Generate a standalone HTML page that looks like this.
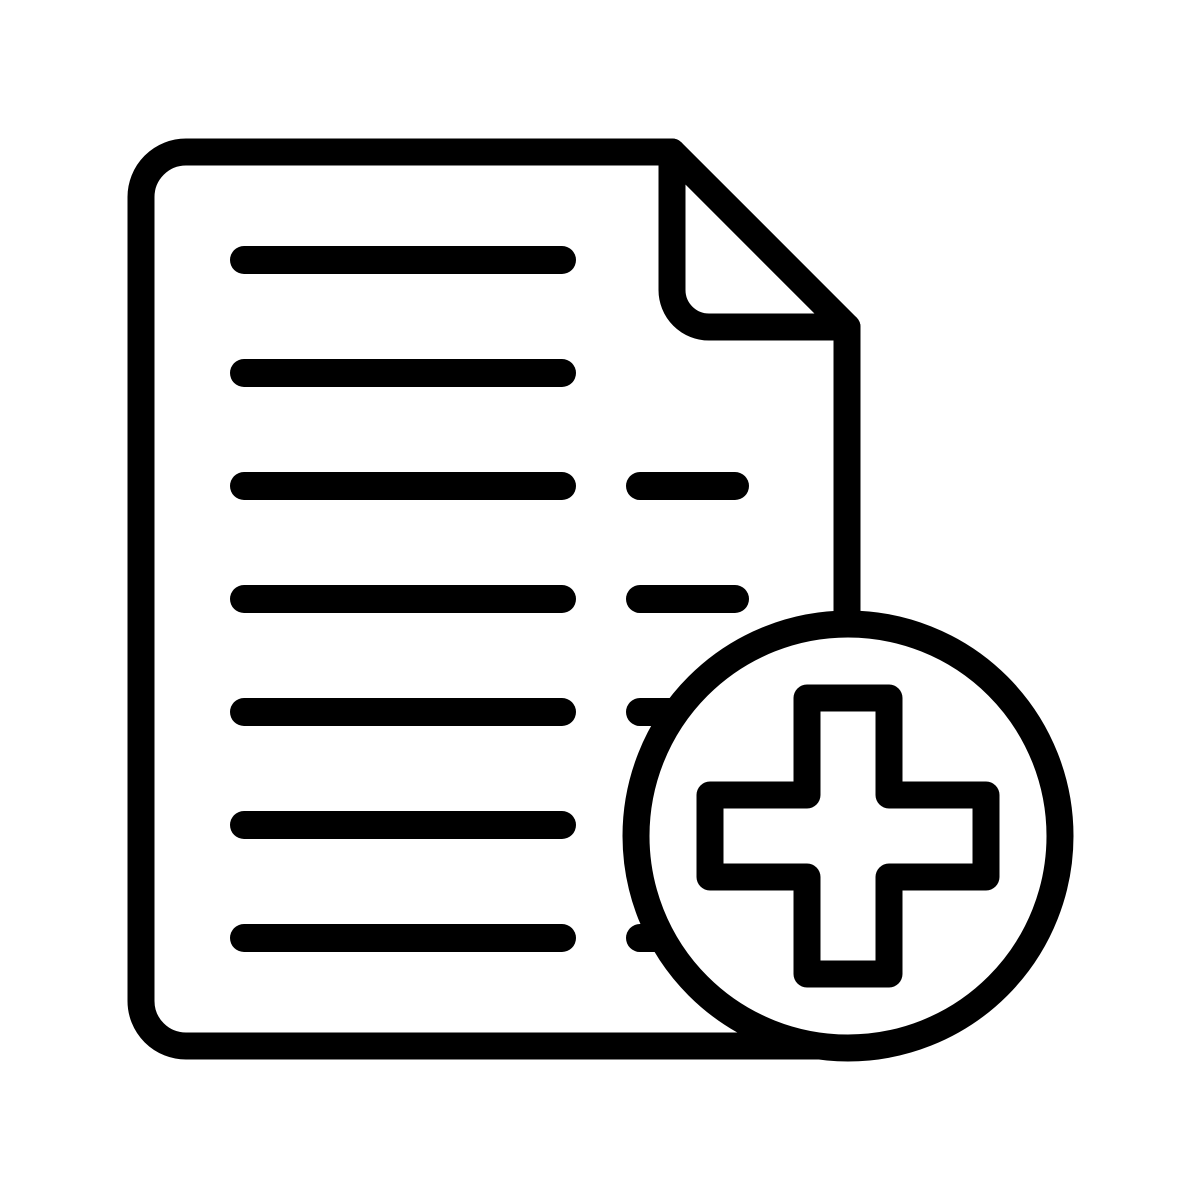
<!DOCTYPE html>
<html><head><meta charset="utf-8"><style>html,body{margin:0;padding:0;background:#fff;}svg{display:block}</style></head>
<body>
<svg width="1200" height="1200" viewBox="0 0 1200 1200" xmlns="http://www.w3.org/2000/svg">
<g fill="none" stroke="#000" stroke-width="27" stroke-linecap="round" stroke-linejoin="round">
<path d="M820 1046 H186 A45 45 0 0 1 141 1001 V197 A45 45 0 0 1 186 152 H672 L847 327 V640"/>
<path d="M672 152 V290 A37 37 0 0 0 709 327 H847"/>
<g stroke-width="28">
<line x1="244" y1="260" x2="562" y2="260"/>
<line x1="244" y1="373" x2="562" y2="373"/>
<line x1="244" y1="486" x2="562" y2="486"/>
<line x1="244" y1="599" x2="562" y2="599"/>
<line x1="244" y1="712" x2="562" y2="712"/>
<line x1="244" y1="825" x2="562" y2="825"/>
<line x1="244" y1="938" x2="562" y2="938"/>
<line x1="640" y1="486" x2="735" y2="486"/>
<line x1="640" y1="599" x2="735" y2="599"/>
<line x1="640" y1="712" x2="735" y2="712"/>
<line x1="640" y1="938" x2="735" y2="938"/>
</g>
<circle cx="848" cy="836" r="212" fill="#fff"/>
<path d="M807 698 H889 V795 H986 V877 H889 V974 H807 V877 H710 V795 H807 Z"/>
</g>
</svg>
</body></html>
